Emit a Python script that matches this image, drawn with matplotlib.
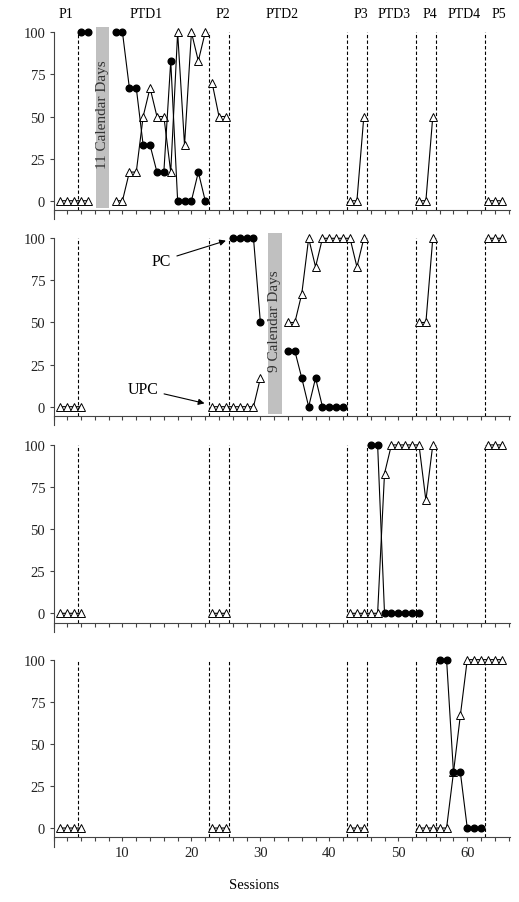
import numpy as np
import matplotlib.pyplot as plt

plt.rcParams['font.family'] = ['Liberation Serif', 'DejaVu Serif']

nan = np.nan

# Tier 1
t1_upc_sessions = [1, 2, 3, 4, 5, nan,
                   9, 10, 11, 12, 13, 14, 15, 16, 17, 18, 19, 20, 21, 22, nan,
                   23, 24, 25, nan, 43, 44, 45, nan, 53, 54, 55, nan, 63, 64, 65]
t1_upc_values = [0, 0, 0, 0, 0, nan,
                 0, 0, 17, 17, 50, 67, 50, 50, 17, 100, 33, 100, 83, 100, nan,
                 70, 50, 50, nan, 0, 0, 50, nan, 0, 0, 50, nan, 0, 0, 0]
t1_pc_sessions = [4, 5, nan, 9, 10, 11, 12, 13, 14, 15, 16, 17, 18, 19, 20, 21, 22]
t1_pc_values = [100, 100, nan, 100, 100, 67, 67, 33, 33, 17, 17, 83, 0, 0, 0, 17, 0]

# Tier 2
t2_upc_sessions = [1, 2, 3, 4, nan, 23, 24, 25, 26, 27, 28, 29, 30, nan,
                   34, 35, 36, 37, 38, 39, 40, 41, 42, 43, 44, 45, nan,
                   53, 54, 55, nan, 63, 64, 65]
t2_upc_values = [0, 0, 0, 0, nan, 0, 0, 0, 0, 0, 0, 0, 17, nan,
                 50, 50, 67, 100, 83, 100, 100, 100, 100, 100, 83, 100, nan,
                 50, 50, 100, nan, 100, 100, 100]
t2_pc_sessions = [26, 27, 28, 29, 30, nan, 34, 35, 36, 37, 38, 39, 40, 41, 42]
t2_pc_values = [100, 100, 100, 100, 50, nan, 33, 33, 17, 0, 17, 0, 0, 0, 0]

# Tier 3
t3_upc_sessions = [1, 2, 3, 4, nan, 23, 24, 25, nan,
                   43, 44, 45, 46, 47, 48, 49, 50, 51, 52, 53, 54, 55, nan,
                   63, 64, 65]
t3_upc_values = [0, 0, 0, 0, nan, 0, 0, 0, nan,
                 0, 0, 0, 0, 0, 83, 100, 100, 100, 100, 100, 67, 100, nan,
                 100, 100, 100]
t3_pc_sessions = [46, 47, 48, 49, 50, 51, 52, 53]
t3_pc_values = [100, 100, 0, 0, 0, 0, 0, 0]

# Tier 4
t4_upc_sessions = [1, 2, 3, 4, nan, 23, 24, 25, nan, 43, 44, 45, nan,
                   53, 54, 55, 56, 57, 58, 59, 60, 61, 62, 63, 64, 65]
t4_upc_values = [0, 0, 0, 0, nan, 0, 0, 0, nan, 0, 0, 0, nan,
                 0, 0, 0, 0, 0, 33, 67, 100, 100, 100, 100, 100, 100]
t4_pc_sessions = [56, 57, 58, 59, 60, 61, 62]
t4_pc_values = [100, 100, 33, 33, 0, 0, 0]

phase_lines = [3.5, 22.5, 25.5, 42.5, 45.5, 52.5, 55.5, 62.5]
phase_names = ['P1', 'PTD1', 'P2', 'PTD2', 'P3', 'PTD3', 'P4', 'PTD4', 'P5']
phase_label_pos = [1.8, 13.4, 24.6, 33.2, 44.5, 49.4, 54.6, 59.6, 64.6]

# gaps in calendar days (tier, session, label)
gap_tiers = [0, 1]
gap_sessions = [7.1, 32.1]
gap_labels = ['11 Calendar Days', '9 Calendar Days']

tiers = [
    (t1_upc_sessions, t1_upc_values, t1_pc_sessions, t1_pc_values),
    (t2_upc_sessions, t2_upc_values, t2_pc_sessions, t2_pc_values),
    (t3_upc_sessions, t3_upc_values, t3_pc_sessions, t3_pc_values),
    (t4_upc_sessions, t4_upc_values, t4_pc_sessions, t4_pc_values),
]

fig = plt.figure(figsize=(5.19, 9.03), dpi=100)
bottoms = [0.7561, 0.5280, 0.2992, 0.0614]
axes = [fig.add_axes([0.1031, b, 0.8796, 0.207]) for b in bottoms]

axis_col = '#444444'
for i, ax in enumerate(axes):
    upc_x, upc_y, pc_x, pc_y = tiers[i]
    ax.set_xlim(0, 66.2)
    ax.set_ylim(-11, 100)
    ax.spines[['top', 'right']].set_visible(False)
    ax.spines['bottom'].set_position(('data', -5.5))
    ax.spines['left'].set_bounds(-11, 100)
    for s in ['left', 'bottom']:
        ax.spines[s].set_color(axis_col)
        ax.spines[s].set_linewidth(0.8)

    ax.set_xticks(range(10, 61, 10))
    ax.set_xticks(range(0, 67, 2), minor=True)
    ax.set_yticks([0, 25, 50, 75, 100])
    ax.tick_params(which='both', direction='out', length=3, width=0.8,
                   color=axis_col, labelsize=10.5, labelcolor='#222222', pad=3)
    if i < 3:
        ax.tick_params(axis='x', labelbottom=False)

    ax.vlines(phase_lines, -5.5, 100, colors='black', linestyles=(0, (3, 2)),
              lw=0.8, zorder=2)

    ax.plot(upc_x, upc_y, color='black', lw=0.8, marker='^', ms=5.2,
            mfc='white', mec='black', mew=0.7, clip_on=False, zorder=3)
    ax.plot(pc_x, pc_y, color='black', lw=0.8, marker='o', ms=4.8,
            mfc='black', mec='black', clip_on=False, zorder=4)

for t, s, lab in zip(gap_tiers, gap_sessions, gap_labels):
    ax = axes[t]
    ax.bar(s, 107.5, bottom=-4.5, width=1.95, color='#c0c0c0', clip_on=False,
           zorder=1)
    ax.text(s, 51.5, lab, rotation=90, ha='center', va='center', fontsize=11,
            color='#333333', zorder=5)

for name, x in zip(phase_names, phase_label_pos):
    axes[0].text(x, 111, name, ha='center', va='center', fontsize=10,
                 clip_on=False)

arrow = dict(arrowstyle='-|>', color='black', lw=0.8, mutation_scale=9,
             shrinkA=2, shrinkB=0)
axes[1].annotate('PC', xy=(25.0, 98.6), xytext=(15.7, 86.7), ha='center',
                 va='center', fontsize=11.5, arrowprops=arrow)
axes[1].annotate('UPC', xy=(21.9, 2.0), xytext=(13.0, 10.5), ha='center',
                 va='center', fontsize=11.5, arrowprops=arrow)

fig.text(254.5 / 519, 1 - 886 / 903, 'Sessions', ha='center', va='center',
         fontsize=10.5)

fig.savefig('out.png', dpi=100)
